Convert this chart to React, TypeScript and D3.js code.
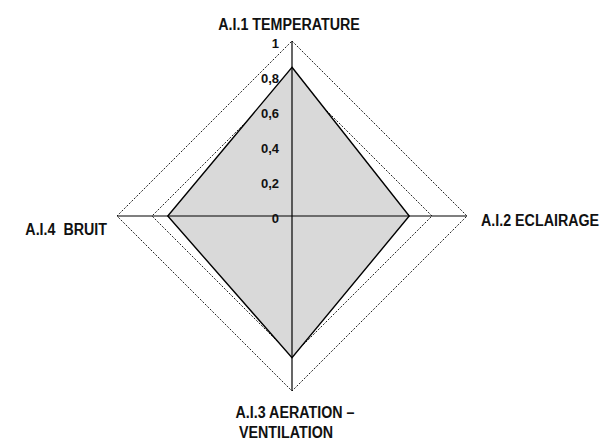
import React from "react";
import * as d3 from "d3";

const axes = ["A.I.1 TEMPERATURE", "A.I.2 ECLAIRAGE", "A.I.3 AERATION – VENTILATION", "A.I.4  BRUIT"];
const maxSeries = [1, 1, 1, 1];
const targetSeries = [0.8, 0.8, 0.8, 0.8];
const scoreSeries = [0.85, 0.67, 0.81, 0.71];
const ticks = [0, 0.2, 0.4, 0.6, 0.8, 1];

const W = 605;
const H = 440;
const cx = 292;
const cy = 216;
const R = 175;
const font = "'Liberation Sans', Arial, sans-serif";

// narrow label: the original font is condensed, so squeeze a bold sans horizontally
function Label(props: { x: number; y: number; anchor: string; children: React.ReactNode }) {
  return (
    <text
      transform={`translate(${props.x},${props.y}) scale(0.84,1)`}
      textAnchor={props.anchor}
      fontFamily={font}
      fontWeight="bold"
      fontSize={17}
      fill="#111"
      style={{ whiteSpace: "pre" }}
    >
      {props.children}
    </text>
  );
}

export default function App() {
  const r = d3.scaleLinear().domain([0, 1]).range([0, R]);
  const angle = d3
    .scaleLinear()
    .domain([0, axes.length])
    .range([0, 2 * Math.PI]);

  const line = d3
    .lineRadial<number>()
    .angle((d, i) => angle(i))
    .radius((d) => r(d))
    .curve(d3.curveLinearClosed);

  const fmt = (v: number) => d3.format("~g")(v).replace(".", ",");

  // axis end points
  const ends = axes.map((a, i) => {
    const t = angle(i) - Math.PI / 2;
    return [Math.cos(t) * r(1), Math.sin(t) * r(1)];
  });

  return (
    <svg
      width={W}
      height={H}
      style={{ position: "absolute", left: 0, top: 0, background: "#fff" }}
    >
      <g transform={`translate(${cx},${cy})`}>
        <path
          d={line(maxSeries) || ""}
          fill="none"
          stroke="#222"
          strokeWidth={1}
          strokeDasharray="2,1.5"
        />
        <path
          d={line(targetSeries) || ""}
          fill="none"
          stroke="#222"
          strokeWidth={1}
          strokeDasharray="2,1.5"
        />
        <path
          d={line(scoreSeries) || ""}
          fill="#d9d9d9"
          stroke="#000"
          strokeWidth={1.4}
          strokeLinejoin="miter"
        />
        {ends.map((e, i) => (
          <line key={i} x1={0} y1={0} x2={e[0]} y2={e[1]} stroke="#000" strokeWidth={1.2} />
        ))}
        {ticks.map((t) => (
          <text
            key={t}
            x={-13}
            y={-r(t) + 4}
            textAnchor="end"
            dominantBaseline="middle"
            fontFamily={font}
            fontWeight="bold"
            fontSize={13}
            fill="#111"
          >
            {fmt(t)}
          </text>
        ))}
      </g>
      <Label x={cx - 3} y={cy - R - 11} anchor="middle">
        {axes[0]}
      </Label>
      <Label x={cx + R + 14} y={cy + 10} anchor="start">
        {axes[1]}
      </Label>
      <Label x={cx + 3} y={cy + R + 27} anchor="middle">
        A.I.3 AERATION –
      </Label>
      <Label x={cx - 6} y={cy + R + 47} anchor="middle">
        VENTILATION
      </Label>
      <Label x={cx - R - 10} y={cy + 19} anchor="end">
        {axes[3]}
      </Label>
    </svg>
  );
}
